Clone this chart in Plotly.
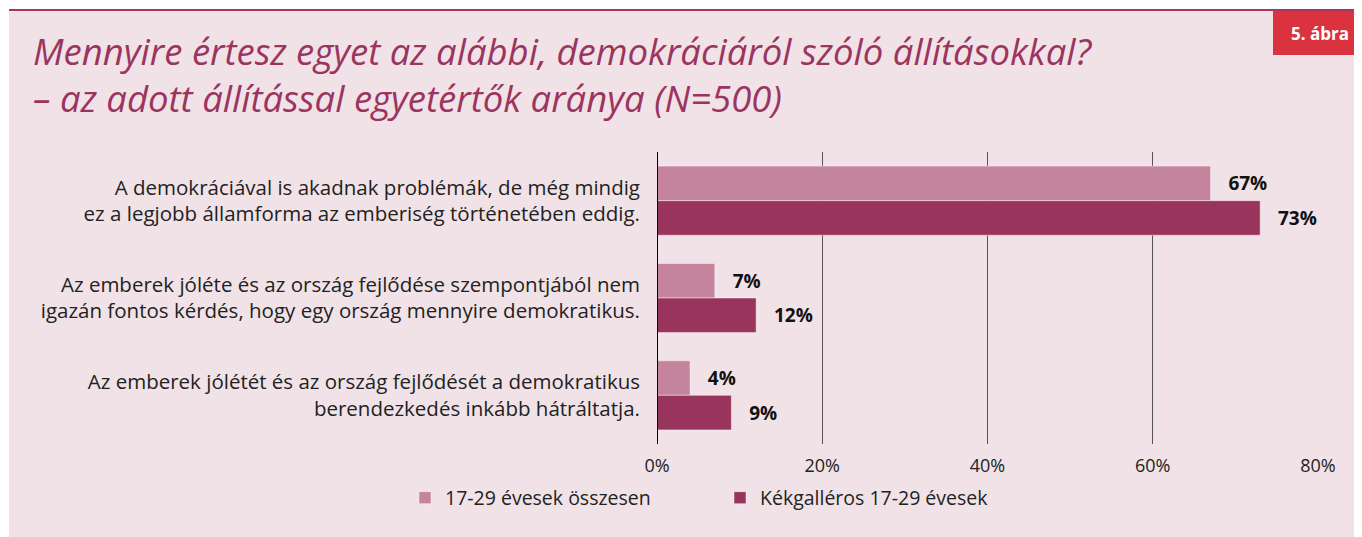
import plotly.graph_objects as go

categories = [
    "A demokráciával is akadnak problémák, de még mindig<br>ez a legjobb államforma az emberiség történetében eddig.",
    "Az emberek jóléte és az ország fejlődése szempontjából nem<br>igazán fontos kérdés, hogy egy ország mennyire demokratikus.",
    "Az emberek jólétét és az ország fejlődését a demokratikus<br>berendezkedés inkább hátráltatja.",
]
series_names = ["17-29 évesek összesen", "Kékgalléros 17-29 évesek"]
values_all = [67, 7, 4]
values_blue = [73, 12, 9]
x_ticks = [0, 20, 40, 60, 80]
x_tick_labels = [f"{v}%" for v in x_ticks]

title_line1 = "Mennyire értesz egyet az alábbi, demokráciáról szóló állításokkal?"
title_line2 = "– az adott állítással egyetértők aránya (N=500)"
badge = "5. ábra"

# page has an 8px body margin: figure coords = screen coords - 8
OFF = 8
W, H = 1362 - OFF, 537 - OFF
FONT = "Open Sans"
L = 657 - OFF
R = W - (1318 - OFF)
T = 152 - OFF
B = H - (444 - OFF)
pw, ph = W - L - R, H - T - B


def px(x):  # screen x -> paper
    return (x - OFF - L) / pw


def py(y):  # screen y -> paper
    return 1 - (y - OFF - T) / ph


fig = go.Figure()
for name, vals, col in [(series_names[0], values_all, "#C4849D"),
                        (series_names[1], values_blue, "#99355D")]:
    fig.add_trace(go.Bar(
        y=categories, x=vals, name=name, orientation="h",
        marker=dict(color=col, line=dict(color="rgba(255,255,255,0.45)", width=1)),
        text=[f"\u00a0\u00a0\u00a0{v}%" for v in vals],
        textposition="outside", cliponaxis=False,
        textfont=dict(family=FONT, size=19, color="#111111", weight="bold"),
        hoverinfo="skip",
    ))

shapes = [
    dict(type="rect", xref="paper", yref="paper", x0=px(9), x1=px(1372), y0=py(545), y1=py(10),
         fillcolor="#F1E2E7", line=dict(width=0), layer="below"),
    dict(type="line", xref="paper", yref="paper", x0=px(9), x1=px(1372), y0=py(10), y1=py(10),
         line=dict(color="#A8375F", width=2)),
    dict(type="rect", xref="paper", yref="paper", x0=px(1273), x1=px(1372), y0=py(55), y1=py(11),
         fillcolor="#DA323F", line=dict(width=0)),
]

annotations = [
    dict(xref="paper", yref="paper", x=px(31), y=py(24), xanchor="left", yanchor="top",
         align="left", text=title_line1 + "<br>" + title_line2, showarrow=False,
         font=dict(family=FONT, size=36.5, color="#9B3560", style="italic")),
    dict(xref="paper", yref="paper", x=px(1320), y=py(33), xanchor="center", yanchor="middle",
         text=badge, showarrow=False,
         font=dict(family=FONT, size=17, color="white", weight="bold")),
]

fig.update_layout(
    width=W, height=H,
    margin=dict(l=L, r=R, t=T, b=B),
    paper_bgcolor="white", plot_bgcolor="rgba(0,0,0,0)",
    barmode="group", bargap=0.29, bargroupgap=0,
    font=dict(family=FONT, size=17, color="#222222"),
    shapes=shapes, annotations=annotations,
    showlegend=True,
    legend=dict(orientation="h", x=px(405), y=py(498), xanchor="left", yanchor="middle",
                bgcolor="rgba(0,0,0,0)", font=dict(family=FONT, size=19.5, color="#222222"),
                traceorder="normal", entrywidth=270, entrywidthmode="pixels", itemwidth=30),
    xaxis=dict(range=[0, 80], tickvals=x_ticks, ticktext=x_tick_labels, showgrid=True,
               gridcolor="#555555", gridwidth=1, zeroline=False, showline=False,
               ticks="", ticklabelstandoff=9,
               tickfont=dict(family=FONT, size=18, color="#222222"),
               fixedrange=True),
    yaxis=dict(autorange="reversed", showgrid=False, showline=False, zeroline=False,
               ticks="", ticklabelstandoff=16,
               tickfont=dict(family=FONT, size=20.5, color="#222222"), fixedrange=True),
)
fig.add_shape(type="line", xref="x", yref="paper", x0=0, x1=0, y0=0, y1=1,
              line=dict(color="black", width=2))

fig.write_html("out.html")
